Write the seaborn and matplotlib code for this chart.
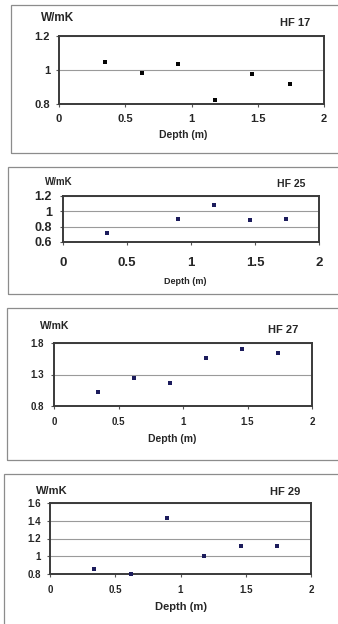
import matplotlib
matplotlib.use("Agg")
import matplotlib.pyplot as plt
from matplotlib.patches import Rectangle
import seaborn as sns

# thermal conductivity (W/mK) against depth (m) for four boreholes
depth_hf17 = [0.35, 0.625, 0.90, 1.18, 1.46, 1.74]
k_hf17 = [1.045, 0.982, 1.033, 0.825, 0.975, 0.92]

depth_hf25 = [0.34, 0.90, 1.18, 1.46, 1.74]
k_hf25 = [0.718, 0.902, 1.082, 0.885, 0.902]

depth_hf27 = [0.34, 0.62, 0.90, 1.18, 1.46, 1.74]
k_hf27 = [1.026, 1.242, 1.163, 1.563, 1.70, 1.647]

depth_hf29 = [0.34, 0.62, 0.90, 1.18, 1.46, 1.74]
k_hf29 = [0.856, 0.804, 1.435, 1.007, 1.12, 1.12]

names = ["HF 17", "HF 25", "HF 27", "HF 29"]
x_ticks = [0, 0.5, 1, 1.5, 2]
x_ticklabels = ["0", "0.5", "1", "1.5", "2"]
y_ticks = [[0.8, 1.0, 1.2], [0.6, 0.8, 1.0, 1.2], [0.8, 1.3, 1.8], [0.8, 1.0, 1.2, 1.4, 1.6]]
y_ticklabels = [["0.8", "1", "1.2"], ["0.6", "0.8", "1", "1.2"], ["0.8", "1.3", "1.8"],
                ["0.8", "1", "1.2", "1.4", "1.6"]]

sns.set_style("white")
plt.rcParams["font.family"] = ["Liberation Sans", "DejaVu Sans"]
plt.rcParams["font.weight"] = "bold"

W, H = 338, 624
fig = plt.figure(figsize=(W / 100, H / 100), dpi=100)
fig.patch.set_facecolor("white")

# pixel layout per panel: axes box, outer frame, label spots, font sizes
layout = [
    dict(ax=(59, 36, 324, 104), frame=(11, 5, 342, 153), unit=(58, 18), name=(295, 22.5),
         xlab=(183, 135.5), xpad=4.5, ypad=4.5, tick_fs=8, ytick_fs=8, lab_fs=7.5, unit_fs=8.5,
         name_fs=8, color="#050505", s=12),
    dict(ax=(63, 196, 319, 242), frame=(8, 167, 342, 294), unit=(59, 182), name=(291, 184),
         xlab=(185, 281), xpad=8.5, ypad=6, tick_fs=9.5, ytick_fs=9, lab_fs=6.5, unit_fs=7,
         name_fs=7.5, color="#1c1c5c", s=11),
    dict(ax=(54, 343, 312, 406), frame=(7, 308, 342, 460), unit=(55, 326), name=(283, 330),
         xlab=(172, 439), xpad=5.5, ypad=5, tick_fs=7, ytick_fs=7, lab_fs=7.5, unit_fs=7.5,
         name_fs=8, color="#1c1c5c", s=11),
    dict(ax=(50, 503, 311, 574), frame=(4, 474, 342, 628), unit=(52, 491), name=(285, 492),
         xlab=(181, 607.5), xpad=5.5, ypad=4.5, tick_fs=7, ytick_fs=7, lab_fs=8, unit_fs=8,
         name_fs=8, color="#1c1c5c", s=11),
]

series = [(depth_hf17, k_hf17), (depth_hf25, k_hf25), (depth_hf27, k_hf27), (depth_hf29, k_hf29)]

for i, (xs, ys) in enumerate(series):
    L = layout[i]
    l, t, r, b = L["ax"]
    ax = fig.add_axes([l / W, 1 - b / H, (r - l) / W, (b - t) / H])

    fl, ft, fr, fb = L["frame"]
    fig.patches.append(Rectangle((fl / W, 1 - fb / H), (fr - fl) / W, (fb - ft) / H,
                                 transform=fig.transFigure, fill=False,
                                 edgecolor="#8c8c8c", linewidth=0.9))

    sns.scatterplot(x=xs, y=ys, marker="s", s=L["s"], color=L["color"], linewidth=0, ax=ax,
                    zorder=3, clip_on=False)

    ax.set_xlim(0, 2)
    ax.set_ylim(y_ticks[i][0], y_ticks[i][-1])
    ax.set_xticks(x_ticks)
    ax.set_xticklabels(x_ticklabels, fontsize=L["tick_fs"], fontweight="bold")
    ax.set_yticks(y_ticks[i])
    ax.set_yticklabels(y_ticklabels[i], fontsize=L["ytick_fs"], fontweight="bold")
    ax.tick_params(axis="x", length=2.5, width=0.8, color="#555555", pad=L["xpad"], direction="out",
                   bottom=True)
    ax.tick_params(axis="y", length=2, width=0.8, color="#555555", pad=L["ypad"], direction="out",
                   left=True)
    ax.grid(axis="y", color="#9a9a9a", linewidth=0.8)
    ax.grid(axis="x", visible=False)
    for sp in ax.spines.values():
        sp.set_color("#3a3a3a")
        sp.set_linewidth(1.4)

    ax.set_xlabel("")
    ax.set_ylabel("")
    fig.text(L["xlab"][0] / W, 1 - L["xlab"][1] / H, "Depth (m)", fontsize=L["lab_fs"],
             fontweight="bold", ha="center", va="center")
    fig.text(L["unit"][0] / W, 1 - L["unit"][1] / H, "W/mK", fontsize=L["unit_fs"],
             fontweight="bold", ha="center", va="center")
    fig.text(L["name"][0] / W, 1 - L["name"][1] / H, names[i], fontsize=L["name_fs"],
             fontweight="bold", ha="center", va="center")

fig.savefig("out.png", dpi=100, facecolor="white")
